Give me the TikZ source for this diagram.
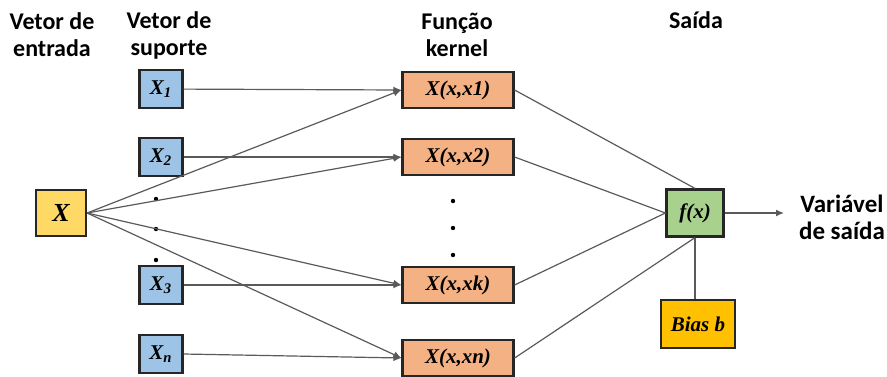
\documentclass[tikz,border=0pt]{standalone}
\usepackage{fontspec}
\setmainfont{Carlito}
\newfontfamily\boxfont{Liberation Serif}
\usetikzlibrary{arrows.meta}

\definecolor{inyellow}{RGB}{255,217,102}
\definecolor{svblue}{RGB}{157,195,230}
\definecolor{kerorange}{RGB}{244,177,131}
\definecolor{outgreen}{RGB}{169,209,142}
\definecolor{biasgold}{RGB}{255,192,0}
\definecolor{wiregray}{RGB}{90,90,90}

\tikzset{
box/.style={draw=black!85, line width=1.1pt, inner sep=0pt, font=\boxfont\bfseries\itshape\fontsize{10.5}{12}\selectfont},
invec/.style={box, fill=inyellow, minimum width=25pt, minimum height=23pt, font=\boxfont\bfseries\itshape\fontsize{13}{14}\selectfont},
supvec/.style={box, fill=svblue, minimum width=21.5pt, minimum height=19pt},
kernbox/.style={box, fill=kerorange, minimum width=55.5pt, minimum height=18pt},
outbox/.style={box, fill=outgreen, minimum width=28.5pt, minimum height=23.5pt},
biasbox/.style={box, fill=biasgold, minimum width=37pt, minimum height=24pt},
head/.style={align=center, font=\bfseries\fontsize{12}{13.5}\selectfont},
vdot/.style={circle, fill=black, inner sep=0pt, minimum size=2.2pt},
wire/.style={draw=wiregray, line width=0.6pt},
feed/.style={wire, -{Latex[length=4pt,width=3.4pt]}}
}

\begin{document}
\begin{tikzpicture}[x=0.5pt,y=-0.5pt]
\useasboundingbox (0,0) rectangle (887,376);

% headings
\node[head] (hin) at (52,35) {Vetor de\\entrada};
\node[head] (hsv) at (169,35) {Vetor de\\suporte};
\node[head] (hker) at (457,35) {Função\\kernel};
\node[head] (hout) at (696,20) {Saída};
\node[head, font=\bfseries\fontsize{12.5}{13.5}\selectfont] (hvar) at (842,217) {Variável\\de saída};

% input vector
\node[invec] (x) at (61,213) {X};

% support vectors
\node[supvec] (s1) at (161,89) {X\textsubscript{1}};
\node[supvec] (s2) at (161,157) {X\textsubscript{2}};
\node[supvec] (s3) at (161,285) {X\textsubscript{3}};
\node[supvec] (sn) at (161,354) {X\textsubscript{n}};
\node[vdot] (sd1) at (156,199) {};
\node[vdot] (sd2) at (156,229) {};
\node[vdot] (sd3) at (156,260) {};

% kernel functions
\node[kernbox] (k1) at (458,90) {X(x,x1)};
\node[kernbox] (k2) at (458,157) {X(x,x2)};
\node[kernbox] (kk) at (458,285) {X(x,xk)};
\node[kernbox] (kn) at (458,358) {X(x,xn)};
\node[vdot] (kd1) at (453,201) {};
\node[vdot] (kd2) at (453,228) {};
\node[vdot] (kd3) at (453,255) {};

% output
\node[outbox] (fx) at (695,213) {f(x)};
\node[biasbox] (bias) at (698,324) {Bias b};
\coordinate (yout) at (784,213);

% connectors
\foreach \k in {k1,k2,kk,kn}
  \draw[feed] (x.east) -- (\k.west);
\draw[feed] (s1) -- (k1.west);
\draw[feed] (s2) -- (k2.west);
\draw[feed] (s3) -- (kk.west);
\draw[feed] (sn.east) -- (kn.west);

\draw[wire] (k1.east) -- (fx.north);
\draw[wire] (k2.east) -- (fx.west);
\draw[wire] (kk.east) -- (fx.west);
\draw[wire] (kn.east) -- (fx.south);
\draw[wire] (fx.south) -- (bias.north -| fx.south);
\draw[feed] (fx.east) -- (yout);

\end{tikzpicture}
\end{document}
